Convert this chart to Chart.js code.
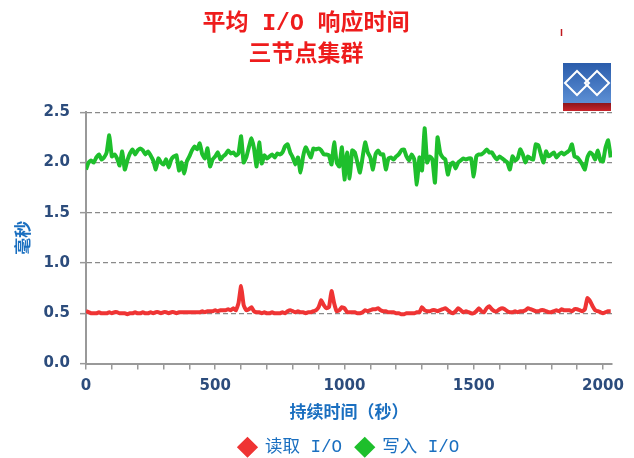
<!DOCTYPE html>
<html>
<head>
<meta charset="utf-8">
<script src="https://cdn.jsdelivr.net/npm/chart.js@4"></script>
<style>
html,body{margin:0;padding:0;background:#fff;}
#wrap{width:634px;height:458px;overflow:hidden;}
</style>
</head>
<body>
<div id="wrap"><canvas id="c" width="634" height="458"></canvas></div>
<script>
// ---- data ----
const titleText = '平均 I/O 响应时间';
const subtitleText = '三节点集群';
const seriesNames = ['读取 I/O', '写入 I/O'];
const sampleStepSec = 10; // seconds between samples
const readIO = [
  0.52,0.51,0.50,0.50,0.50,0.51,0.50,0.50,0.50,0.51,
  0.50,0.51,0.51,0.50,0.50,0.50,0.49,0.50,0.50,0.51,
  0.50,0.50,0.51,0.50,0.50,0.51,0.50,0.51,0.51,0.50,
  0.51,0.51,0.50,0.51,0.51,0.50,0.51,0.51,0.51,0.51,
  0.51,0.51,0.51,0.51,0.51,0.52,0.51,0.52,0.52,0.52,
  0.53,0.52,0.53,0.53,0.53,0.54,0.53,0.55,0.53,0.60,
  0.77,0.58,0.53,0.54,0.56,0.52,0.51,0.51,0.50,0.51,
  0.50,0.50,0.51,0.50,0.50,0.50,0.51,0.50,0.52,0.53,
  0.52,0.51,0.52,0.51,0.51,0.50,0.51,0.51,0.52,0.53,
  0.56,0.63,0.58,0.55,0.56,0.72,0.60,0.52,0.53,0.56,
  0.55,0.51,0.51,0.51,0.51,0.50,0.50,0.51,0.53,0.52,
  0.53,0.54,0.54,0.55,0.53,0.52,0.52,0.51,0.51,0.51,
  0.50,0.50,0.49,0.49,0.50,0.50,0.50,0.50,0.51,0.51,
  0.56,0.53,0.52,0.52,0.53,0.53,0.52,0.53,0.54,0.55,
  0.53,0.51,0.50,0.52,0.55,0.53,0.51,0.52,0.51,0.50,
  0.50,0.52,0.55,0.52,0.51,0.55,0.57,0.54,0.52,0.52,
  0.54,0.55,0.54,0.52,0.51,0.51,0.52,0.51,0.52,0.52,
  0.53,0.55,0.54,0.53,0.52,0.52,0.53,0.53,0.52,0.51,
  0.51,0.52,0.53,0.52,0.54,0.53,0.53,0.53,0.52,0.54,
  0.54,0.53,0.52,0.54,0.65,0.62,0.57,0.53,0.52,0.51,
  0.50,0.51,0.52,0.52
];
const writeIO = [
  1.93,2.00,2.02,2.00,2.05,2.08,2.03,2.05,2.10,2.27,
  2.06,2.08,2.04,1.97,2.11,1.93,2.02,2.09,2.13,2.08,
  2.12,2.14,2.12,2.08,2.11,2.07,2.02,1.93,2.04,2.00,
  1.98,2.03,1.95,2.03,2.06,2.07,1.92,2.00,1.89,2.01,
  2.06,2.12,2.16,2.13,2.19,2.08,2.04,2.14,1.96,2.03,
  2.06,2.10,2.03,2.06,2.08,2.12,2.09,2.10,2.07,2.09,
  2.26,2.00,2.05,2.15,2.24,2.14,1.96,2.20,1.99,2.07,
  2.04,2.06,2.08,2.05,2.09,2.08,2.10,2.16,2.18,2.10,
  2.05,1.98,2.05,1.90,2.06,2.15,2.10,2.05,2.14,2.13,
  2.14,2.12,2.08,2.08,2.07,1.98,2.20,2.00,1.96,2.15,
  1.83,2.10,1.84,2.12,2.10,2.00,1.90,2.05,2.20,2.10,
  2.05,1.93,2.08,2.12,2.08,2.08,1.93,2.04,2.05,2.03,
  2.06,2.08,2.12,2.13,2.06,2.02,2.08,2.03,1.78,2.05,
  1.92,2.34,2.00,2.06,2.03,1.80,2.25,2.10,2.05,2.03,
  1.88,1.98,2.00,1.94,2.00,2.02,2.04,2.03,2.04,2.04,
  1.86,2.06,2.08,2.08,2.10,2.13,2.10,2.10,2.06,2.03,
  2.06,2.04,2.02,2.00,1.93,2.06,2.02,2.04,2.13,2.08,
  2.00,2.06,2.04,2.03,2.18,2.17,2.08,2.00,2.11,2.06,
  2.08,2.10,2.05,2.08,2.10,2.08,2.10,2.12,2.18,2.06,
  2.05,2.02,1.98,1.93,2.05,2.10,2.08,2.03,2.12,2.02,
  2.01,2.15,2.22,2.05
];
const xTickValues = [0,100,200,300,400,500,600,700,800,900,1000,1100,1200,1300,1400,1500,1600,1700,1800,1900,2000];
const xLabelValues = [0,500,1000,1500,2000];
const yTickValues = [0,0.5,1.0,1.5,2.0,2.5];
const xAxisTitle = '持续时间（秒）';
const yAxisTitle = '毫秒';

// ---- build ----
const toPoints = arr => arr.map((v, i) => ({x: i * sampleStepSec, y: v}));
const RED = '#ef3434', GREEN = '#1ebf2c';
const MIX = '"Liberation Mono","Noto Sans CJK SC"';
const CJK = '"Noto Sans CJK SC"';
const TICKFONT = {family: '"DejaVu Sans"', size: 15, weight: 'bold'};

const logoPlugin = {
  id: 'logo',
  afterDraw(chart) {
    const ctx = chart.ctx;
    ctx.save();
    const x0 = 563, y0 = 63, w = 48, hb = 40, hr = 8;
    let g = ctx.createLinearGradient(0, y0, 0, y0 + hb);
    g.addColorStop(0, '#2a5cab'); g.addColorStop(1, '#5c8fd4');
    ctx.fillStyle = g; ctx.fillRect(x0, y0, w, hb);
    g = ctx.createLinearGradient(0, y0 + hb, 0, y0 + hb + hr);
    g.addColorStop(0, '#8c161b'); g.addColorStop(1, '#c8242b');
    ctx.fillStyle = g; ctx.fillRect(x0, y0 + hb, w, hr);
    ctx.strokeStyle = '#ffffff'; ctx.lineWidth = 2;
    const dia = (cx, cy, r) => { ctx.beginPath(); ctx.moveTo(cx, cy - r); ctx.lineTo(cx + r, cy); ctx.lineTo(cx, cy + r); ctx.lineTo(cx - r, cy); ctx.closePath(); ctx.stroke(); };
    dia(577, 83, 12); dia(597, 83, 12);
    ctx.strokeStyle = '#c0181e'; ctx.lineWidth = 1.5;
    ctx.beginPath(); ctx.moveTo(561.5, 29); ctx.lineTo(561.5, 36); ctx.stroke();
    ctx.restore();
  }
};

new Chart(document.getElementById('c'), {
  type: 'line',
  data: {
    datasets: [
      {label: seriesNames[0], data: toPoints(readIO), borderColor: RED, backgroundColor: RED, borderWidth: 4, pointRadius: 0, tension: 0.15, pointStyle: 'rectRot'},
      {label: seriesNames[1], data: toPoints(writeIO), borderColor: GREEN, backgroundColor: GREEN, borderWidth: 4, pointRadius: 0, tension: 0.15, pointStyle: 'rectRot'}
    ]
  },
  options: {
    responsive: false,
    animation: false,
    devicePixelRatio: 1,
    layout: {padding: {left: 0, right: 22, top: 0, bottom: -8}},
    plugins: {
      title: {display: true, text: titleText, color: '#ee1c1c', font: {family: MIX, size: 23, weight: 'bold'}, padding: {top: 10, bottom: 3}},
      subtitle: {display: true, text: subtitleText, color: '#ee1c1c', font: {family: MIX, size: 23, weight: 'bold'}, padding: {top: 1, bottom: 43}},
      legend: {
        position: 'bottom',
        fullSize: false,
        labels: {usePointStyle: true, boxWidth: 18, boxHeight: 11, color: '#1a6fc0', font: {family: MIX, size: 17.5}, padding: 14}
      },
      tooltip: {enabled: false}
    },
    scales: {
      x: {
        type: 'linear', min: 0, max: 2035,
        afterBuildTicks: s => { s.ticks = xTickValues.map(v => ({value: v})); },
        afterFit: s => { s.height = 61; },
        ticks: {
          autoSkip: false, maxRotation: 0, padding: 8, color: '#2c4c7c', font: TICKFONT,
          callback: v => xLabelValues.includes(v) ? String(v) : ''
        },
        grid: {drawOnChartArea: false, drawTicks: true, tickLength: 6, color: '#999', lineWidth: 1.5},
        border: {display: true, color: '#999', width: 2},
        title: {display: true, text: xAxisTitle, color: '#1a6fc0', font: {family: CJK, size: 17, weight: 'bold'}, padding: {top: 6, bottom: 3}}
      },
      y: {
        min: 0, max: 2.5,
        afterBuildTicks: s => { s.ticks = yTickValues.map(v => ({value: v})); },
        afterFit: s => { s.width = 86; },
        ticks: {padding: 10, color: '#2c4c7c', font: TICKFONT, callback: v => v.toFixed(1)},
        grid: {color: '#8a8a8a', lineWidth: 1.3, tickLength: 6, tickBorderDash: [], tickColor: '#999', tickWidth: 1.5},
        border: {display: true, color: '#999', width: 2, dash: [5, 3]},
        title: {display: true, text: yAxisTitle, color: '#1a6fc0', font: {family: CJK, size: 17, weight: 'bold'}, padding: {top: 12, bottom: 0}}
      }
    }
  },
  plugins: [logoPlugin]
});
</script>
</body>
</html>
